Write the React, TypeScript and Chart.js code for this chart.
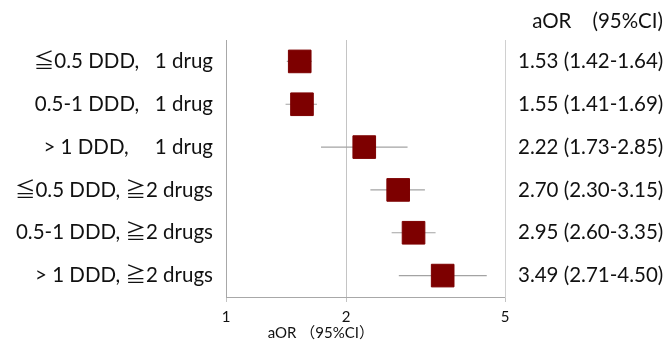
import React, { useEffect, useRef } from "react";
import { Chart, registerables } from "chart.js";

Chart.register(...registerables);

const categories = [
  "≦0.5 DDD,   1 drug",
  "0.5-1 DDD,   1 drug",
  "> 1 DDD,     1 drug",
  "≦0.5 DDD, ≧2 drugs",
  "0.5-1 DDD, ≧2 drugs",
  "> 1 DDD, ≧2 drugs",
];
const aor = [1.53, 1.55, 2.22, 2.7, 2.95, 3.49];
const ciLow = [1.42, 1.41, 1.73, 2.3, 2.6, 2.71];
const ciHigh = [1.64, 1.69, 2.85, 3.15, 3.35, 4.5];
const ciLabels = [
  "1.53 (1.42-1.64)",
  "1.55 (1.41-1.69)",
  "2.22 (1.73-2.85)",
  "2.70 (2.30-3.15)",
  "2.95 (2.60-3.35)",
  "3.49 (2.71-4.50)",
];
const xTicks = [1, 2, 5];
const headerText = "aOR    (95%CI)";
const xTitle = "aOR （95%CI）";

const FONT = "Lato, 'Noto Sans CJK JP', sans-serif";
const TEXT = "#111111";
const GRID = "#c4c4c4";

const textPlugin = {
  id: "extraText",
  afterDraw(chart: any) {
    const ctx = chart.ctx;
    const x = chart.scales.x;
    ctx.save();
    ctx.fillStyle = TEXT;
    ctx.textBaseline = "middle";
    ctx.font = `20.5px ${FONT}`;
    ctx.textAlign = "right";
    ctx.fillText(headerText, chart.width - 4, 21);
    ctx.font = `15px ${FONT}`;
    ctx.textAlign = "center";
    ctx.fillText(xTitle, x.left + (x.right - x.left) * 0.34, 333);
    ctx.restore();
  },
};

export default function App() {
  const ref = useRef<HTMLCanvasElement | null>(null);
  useEffect(() => {
    if (!ref.current) return;
    const whiskers = categories.map((c, i) => ({
      type: "scatter" as const,
      data: [
        { x: ciLow[i], y: c },
        { x: ciHigh[i], y: c },
      ],
      showLine: true,
      borderColor: "#a3a3a3",
      borderWidth: 1.2,
      pointRadius: 0,
      order: 2,
    }));
    const chart = new Chart(ref.current, {
      type: "scatter",
      data: {
        datasets: [
          {
            data: categories.map((c, i) => ({ x: aor[i], y: c })),
            pointStyle: "rect",
            pointRadius: 16,
            backgroundColor: "#7d0000",
            borderColor: "#7d0000",
            borderWidth: 1,
            order: 1,
          } as any,
          ...whiskers,
        ],
      },
      options: {
        responsive: false,
        animation: false,
        layout: { padding: { top: 40, left: 0, right: 0, bottom: 0 } },
        plugins: { legend: { display: false }, tooltip: { enabled: false }, title: { display: false } },
        scales: {
          x: {
            type: "logarithmic",
            min: 1,
            max: 5,
            afterBuildTicks: (s: any) => {
              s.ticks = xTicks.map((v) => ({ value: v }));
            },
            afterFit: (s: any) => {
              s.height = 45;
            },
            ticks: {
              callback: (v: any) => String(v),
              color: TEXT,
              font: { family: FONT, size: 15 },
              padding: 6,
              maxRotation: 0,
              autoSkip: false,
            },
            grid: { color: GRID, drawTicks: true, tickLength: 5, tickColor: GRID },
            border: { color: "#a8a8a8" },
          },
          y: {
            type: "category",
            labels: categories,
            offset: true,
            position: "left",
            afterFit: (s: any) => {
              s.width = 226;
            },
            ticks: { color: TEXT, font: { family: FONT, size: 20.5 }, padding: 13, autoSkip: false },
            grid: { display: false, drawTicks: false },
            border: { color: "#a8a8a8" },
          },
          y2: {
            type: "category",
            labels: ciLabels,
            offset: true,
            position: "right",
            afterFit: (s: any) => {
              s.width = 162;
            },
            ticks: { color: TEXT, font: { family: FONT, size: 20.5 }, padding: 13, autoSkip: false },
            grid: { display: false, drawTicks: false },
            border: { color: "#d0d0d0" },
          },
        },
      } as any,
      plugins: [textPlugin],
    });
    return () => chart.destroy();
  }, []);
  return (
    <div style={{ position: "fixed", left: 0, top: 0, width: 667, height: 342, background: "#fff" }}>
      <canvas ref={ref} width={667} height={342} style={{ display: "block" }} />
    </div>
  );
}
